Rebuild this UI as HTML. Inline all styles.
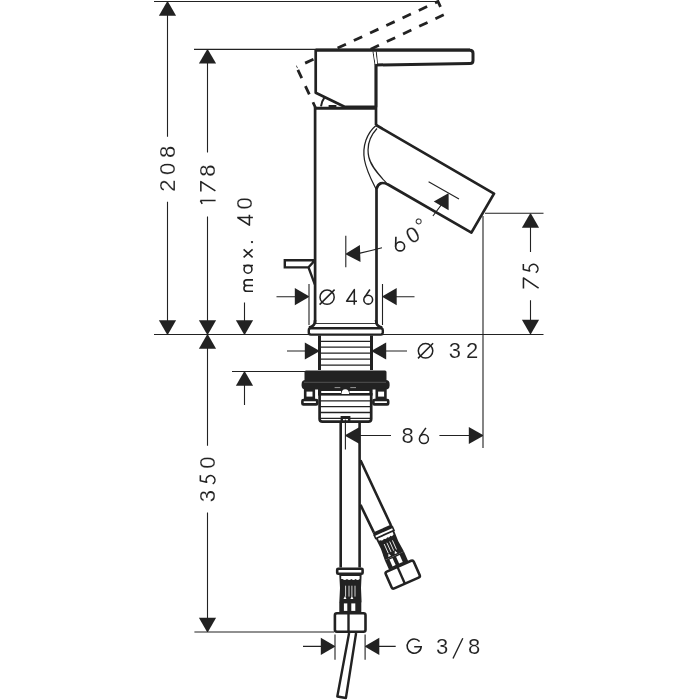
<!DOCTYPE html>
<html><head><meta charset="utf-8">
<style>
html,body{margin:0;padding:0;background:#fff;width:700px;height:700px;overflow:hidden}
svg{display:block;will-change:transform}
text{font-family:"Liberation Sans",sans-serif;font-size:22px;fill:#222;stroke:#fff;stroke-width:0.15px}
</style></head><body>
<svg width="700" height="700" viewBox="0 0 700 700">
<defs>
<path id="aU" d="M-0.4,0 L0.4,0 L8.6,14.2 L-8.6,14.2 Z"/>
</defs>
<g fill="none" stroke="#222" stroke-width="1.1">
<!-- thin dimension lines -->
<path d="M154,1.5 H439"/>
<path d="M194,49.4 H316"/>
<path d="M167.5,15 V136.7 M167.5,201.7 V321"/>
<path d="M207.5,63 V152.5 M207.5,216.6 V321 M207.5,348 V445.7 M207.5,512.6 V619"/>
<path d="M154,334.5 H310 M381,334.5 H543.5"/>
<path d="M244.5,302.6 V321 M244.5,385 V405"/>
<path d="M232,371.5 H305"/>
<path d="M194.4,632 H334"/>
<!-- O46 -->
<path d="M276.5,296.7 H296 M309,284 V325 M382.5,284 V325 M396,296.7 H414.5"/>
<!-- O32 -->
<path d="M287,351 H306 M385,351 H407"/>
<!-- 86 -->
<path d="M345.4,419.4 V449.4 M359,435.5 H391 M439.4,435.5 H470 M483,216 V448"/>
<!-- 75 -->
<path d="M485,213.3 H543.5 M530.5,227 V252 M530.5,300.3 V322"/>
<!-- G3/8 -->
<path d="M335,634.6 V659.8 M365.1,634.6 V659.8 M303,646.4 H321 M378,646.4 H395.7"/>
<!-- 60 deg -->
<path d="M345.8,235.7 V267.3 M359,253.4 Q370,251 382,247.8"/>
<path d="M428.6,181.8 L459,198.9 M443,202.7 L432.9,216"/>
</g>
<g fill="#222">
<use href="#aU" transform="translate(167.5,1.5)"/>
<use href="#aU" transform="translate(167.5,334.5) rotate(180)"/>
<use href="#aU" transform="translate(207.5,49.4)"/>
<use href="#aU" transform="translate(207.5,334.5) rotate(180)"/>
<use href="#aU" transform="translate(207.5,334.5)"/>
<use href="#aU" transform="translate(207.5,632) rotate(180)"/>
<use href="#aU" transform="translate(244.5,334.5) rotate(180)"/>
<use href="#aU" transform="translate(244.5,371.5)"/>
<use href="#aU" transform="translate(309,296.7) rotate(90)"/>
<use href="#aU" transform="translate(382.5,296.7) rotate(-90)"/>
<use href="#aU" transform="translate(319,351) rotate(90)"/>
<use href="#aU" transform="translate(372,351) rotate(-90)"/>
<use href="#aU" transform="translate(345.4,435.5) rotate(-90)"/>
<use href="#aU" transform="translate(483,435.5) rotate(90)"/>
<use href="#aU" transform="translate(530.5,213.5)"/>
<use href="#aU" transform="translate(530.5,334) rotate(180)"/>
<use href="#aU" transform="translate(335,646.4) rotate(90)"/>
<use href="#aU" transform="translate(365.1,646.4) rotate(-90)"/>
<use href="#aU" transform="translate(346,254) rotate(-92)"/>
<use href="#aU" transform="translate(448.3,193.6) rotate(30)"/>
</g>

<!-- dashed rotated handle -->
<g fill="none" stroke="#222" stroke-width="2.8" stroke-dasharray="9.2 8.7">
<path d="M296.6,67.1 L438,1.5 L444.1,14.65" stroke-dashoffset="8.5"/>
<path d="M444.1,14.65 L370,49.5" stroke-dashoffset="17.5"/>
<path d="M296.6,67.1 L315.4,107.5" stroke-dashoffset="14.9"/>
</g>
<path d="M324.3,97.9 Q321.5,101.5 321,106.4" fill="none" stroke="#222" stroke-width="2"/>
<path d="M328.6,106 H336.4" fill="none" stroke="#222" stroke-width="2"/>

<!-- solid object -->
<g fill="#fff" stroke="#222" stroke-width="2.7" stroke-linejoin="round">
<path d="M315.7,50 H376 V106.8 H344.5 L315.7,92.7 Z" stroke="none"/>
<path d="M376,65 V106.8 H344.5 L315.7,92.7 V50" fill="none"/>
<path d="M315.7,50.3 H470 Q473,50.3 473,53.3 V60.6 Q473,63.6 470,63.6 L375.5,65" fill="none" stroke-width="3"/>
<path d="M315.7,49.6 H470" fill="none" stroke-width="2"/>
<path d="M315.1,108.2 H376.5" stroke-width="2.9"/>
<path d="M315.1,107 V324 M376,64 V125"/>
<path d="M376,125 L494,193.6 L471.4,232.6 L388,184.5 Q379,180 376.5,189 V324" fill="none"/>
</g>
<g fill="none" stroke="#222" stroke-width="0.9">
<path d="M376,125.5 C367,133 362,146 364.5,160 C366.5,171 372,181 376,189" stroke-width="1.25"/>
<path d="M377,128.5 C370,136 366.5,146 368.8,157 C371,167 380,176 386.5,183" stroke-width="1.25"/>
<path d="M315.4,323.5 H376"/>
</g>
<path d="M373,51.5 L375.1,65 M376.25,51.5 L377.5,64.5" fill="none" stroke="#222" stroke-width="1"/>
<path d="M374.5,52.5 L376.4,64" fill="none" stroke="#fff" stroke-width="1.6"/>
<!-- drain lever -->
<g fill="none" stroke="#222" stroke-width="2.4">
<path d="M315,260.3 H284.8 V267.4 H308.5 L315,260.3 M308.5,267.4 L314.8,284.4"/>
</g>
<path d="M315.1,320 Q315.1,326.8 308.8,327.5 M376,320 Q376,326.8 382.3,327.5" fill="none" stroke="#222" stroke-width="2.6"/>
<!-- base plate -->
<rect x="308.8" y="328.2" width="74" height="6.4" rx="2" fill="#fff" stroke="#222" stroke-width="2.4"/>
<!-- thread -->
<g fill="none" stroke="#222">
<path d="M319.5,335.5 V370 M371.5,335.5 V370" stroke-width="3"/>
<path d="M320,341.3 H371 M320,347.2 H371 M320,353.2 H371 M320,359.2 H371 M320,365.2 H371" stroke-width="1.3"/>
</g>
<!-- nut -->
<g fill="#222">
<rect x="304.5" y="370.4" width="82" height="12" rx="1.5"/>
<rect x="301.6" y="380" width="88" height="9.6" rx="4"/>
<rect x="318" y="389" width="54.6" height="6.6"/>
</g>
<path d="M304,382.3 H386" stroke="#666" stroke-width="0.7"/>
<path d="M321.2,392 H341 M349.5,392 H369.4" stroke="#fff" stroke-width="2.2"/>
<path d="M341.5,394 Q341.5,389.3 345.3,389.3 Q349.1,389.3 349.1,394 Z" fill="#fff"/>
<path d="M334.6,387.6 H340.3 M350.3,387.6 H356" stroke="#999" stroke-width="1"/>
<!-- bracket -->
<g fill="#fff" stroke="#222" stroke-width="2.6">
<rect x="305.2" y="390.3" width="8.6" height="7.6"/>
<rect x="302.4" y="400" width="14.8" height="4.4" rx="1"/>
<rect x="376.8" y="390.3" width="8.6" height="7.6"/>
<rect x="373.4" y="400" width="14.8" height="4.4" rx="1"/>
</g>
<g fill="none" stroke="#222">
<path d="M319.6,393 V419 Q319.6,421.6 322.5,421.6 H368.3 Q371.2,421.6 371.2,419 V393" stroke-width="2.7"/>
<path d="M320,400.9 H371 M320,406.6 H371 M320,412.5 H371 M320,418.4 H371" stroke-width="1.3"/>
</g>
<!-- pipe -->
<g fill="none" stroke="#222" stroke-width="2.6">
<path d="M340.7,423 V567.4 M359.6,423 V567.4"/>
<path d="M341.8,422.5 V417.2 H349.2 V422.5" stroke-width="2.4"/>
</g>
<!-- hose tube -->
<g fill="none" stroke="#222" stroke-width="2.6">
<path d="M360.5,460.3 L390.8,525 M360.5,504.9 L373.8,532.4"/>
</g>
<!-- bottom assembly (vertical) -->
<g>
<rect x="337.2" y="568.7" width="25.4" height="5" rx="1" fill="#fff" stroke="#222" stroke-width="2.6"/>
<path d="M339.3,575 H361.6 L361,588 L361.6,602.3 H339.3 L340,588 Z" fill="#222"/>
<path d="M341.2,576 H359.6 V579 Q357.6,581 355.6,579 Q353.5,581 351.4,579 Q349.2,581 347,579 Q344.8,581 342.6,579 L341.2,579 Z" fill="#fff"/>
<path d="M345.6,585.7 V596.6 M349,585.7 V596.6 M351.9,585.7 V596.6 M355,585.7 V596.6" stroke="#fff" stroke-width="0.8"/>
<path d="M343.5,599 L345,596 L346.5,599 Z M350.4,599 L351.9,596 L353.4,599 Z" fill="#fff"/>
<rect x="339.3" y="602" width="22" height="10.5" fill="#222"/>
<rect x="343.9" y="603.4" width="3.4" height="7.5" fill="#fff"/>
<rect x="351.3" y="603.4" width="4" height="7.5" fill="#fff"/>
<rect x="334.9" y="613.3" width="30.6" height="18.4" rx="2" fill="#fff" stroke="#222" stroke-width="2.6"/>
<path d="M348.5,613 V632" stroke="#222" stroke-width="2.4"/>
</g>
<!-- hose assembly -->
<g transform="translate(407,584.2) rotate(-24)">
<path d="M-10.5,-59.5 H10.5" stroke="#222" stroke-width="3"/>
<rect x="-10" y="-58" width="20" height="3.5" fill="#fff" stroke="#222" stroke-width="1.6"/>
<path d="M-10,-54.5 H10 L9.5,-43 L10.5,-31 H-10.5 L-9.5,-43 Z" fill="#222"/>
<path d="M-8,-53.5 H8 V-51 Q6.2,-49 4.4,-51 Q2.7,-49 1,-51 Q-0.8,-49 -2.6,-51 Q-4.4,-49 -6.2,-51 L-8,-51 Z" fill="#fff"/>
<path d="M-4.5,-46 V-36 M-1.5,-46 V-36 M1.5,-46 V-36 M4.5,-46 V-36" stroke="#fff" stroke-width="0.8"/>
<path d="M-6,-32.5 L-4.5,-35.5 L-3,-32.5 Z M1,-32.5 L2.5,-35.5 L4,-32.5 Z" fill="#fff"/>
<rect x="-10.5" y="-31" width="21" height="10.5" fill="#222"/>
<rect x="-6" y="-29.6" width="3.4" height="7.5" fill="#fff"/>
<rect x="1.2" y="-29.6" width="4" height="7.5" fill="#fff"/>
<rect x="-15.3" y="-19.7" width="30.6" height="18.4" rx="2" fill="#fff" stroke="#222" stroke-width="2.6"/>
<path d="M-1.7,-20 V-1" stroke="#222" stroke-width="2.4"/>
</g>
<!-- bottom tube -->
<path d="M349.1,633 L337.3,696.5 L345.9,698 L356.1,633" fill="#fff" stroke="#222" stroke-width="2.4" stroke-linejoin="round"/>

<!-- texts -->
<g class="tx">
<text transform="translate(175.35,191.85) rotate(-90)">2</text>
<text transform="translate(175.35,174.95) rotate(-90)">0</text>
<text transform="translate(175.35,158.0) rotate(-90)">8</text>
<path d="M200.3,200.4 H215.6 M200.4,200.6 L202.2,203.9" stroke="#222" stroke-width="1.55" fill="none" stroke-linecap="butt"/>
<path d="M200.85,191.4 V181.6 L215.4,190.9" stroke="#222" stroke-width="1.55" fill="none" stroke-linecap="butt" stroke-linejoin="round"/>
<text transform="translate(215.35,176.85) rotate(-90)">8</text>
<path d="M253,291.25 H246.8 M253,285.55 H246.8 A2.85,2.85 0 0 0 246.8,291.25 M253,279.85 H246.8 A2.85,2.85 0 0 0 246.8,285.55" stroke="#222" stroke-width="1.55" fill="none"/>
<path d="M243.2,265.55 H253" stroke="#222" stroke-width="1.55" fill="none"/><circle cx="248" cy="269.2" r="3.95" stroke="#222" stroke-width="1.55" fill="none"/>
<path d="M243.6,249.4 L252.6,257.3 M243.6,257.3 L252.6,249.4" stroke="#222" stroke-width="1.55" fill="none"/>
<circle cx="252" cy="242.1" r="1.15" fill="#222"/>
<path d="M237.2,217.5 H252.9 M237.6,217.5 L249.4,225.2 V214.8" stroke="#222" stroke-width="1.55" fill="none" stroke-linecap="butt" stroke-linejoin="round"/>
<text transform="translate(252.4,209.45) rotate(-90)">0</text>
<text transform="translate(215.15,502.25) rotate(-90)">3</text>
<path d="M523.35,263.9 V269.5 L529.7,270.9 A4.4,4.4 0 1 1 535.7,272.6" stroke="#222" stroke-width="1.55" fill="none" stroke-linejoin="round" transform="translate(-323,211.3)"/>
<text transform="translate(215.15,468.85) rotate(-90)">0</text>
<path d="M523.45,288.4 V277.9 L538.6,288.1" stroke="#222" stroke-width="1.55" fill="none" stroke-linecap="butt" stroke-linejoin="round"/>
<path d="M523.35,263.9 V269.5 L529.7,270.9 A4.4,4.4 0 1 1 535.7,272.6" stroke="#222" stroke-width="1.55" fill="none" stroke-linejoin="round"/>
<circle cx="327.1" cy="297.15" r="7.1" fill="none" stroke="#222" stroke-width="1.5"/><path d="M319.6,304.6 L334.6,289.6" stroke="#222" stroke-width="1.5"/>
<path d="M354.3,304.8 V289.6 L346.6,301.2 H357" stroke="#222" stroke-width="1.55" fill="none" stroke-linecap="butt" stroke-linejoin="round"/>
<path d="M369.9,289.5 L364.4,297.6" stroke="#222" stroke-width="1.55" fill="none" stroke-linecap="butt"/><circle cx="368.2" cy="299.7" r="4.4" stroke="#222" stroke-width="1.55" fill="none" stroke-linecap="butt"/>
<circle cx="425.55" cy="350.85" r="7.25" fill="none" stroke="#222" stroke-width="1.5"/><path d="M418,358.4 L433.1,343.3" stroke="#222" stroke-width="1.5"/>
<text x="448.7" y="358.35">3</text>
<text x="465.9" y="358.35">2</text>
<text x="401.55" y="443.35">8</text>
<path d="M425.9,427.9 L419.9,436.4" stroke="#222" stroke-width="1.55" fill="none" stroke-linecap="butt"/><circle cx="423.9" cy="438.9" r="4.5" stroke="#222" stroke-width="1.55" fill="none" stroke-linecap="butt"/>
<path d="M419.6,641.6 A7.05,7.05 0 1 0 421.2,646.8 H414.2" stroke="#222" stroke-width="1.55" fill="none"/>
<text x="436.1" y="654.3">3</text>
<text x="467.9" y="654.3">8</text>
<path d="M395.9,236.8 L395.6,246.6" stroke="#222" stroke-width="1.6" fill="none"/><circle cx="400.1" cy="246.4" r="4.5" fill="none" stroke="#222" stroke-width="1.6"/>
<text transform="translate(411.35,244.5) rotate(-30)">0</text>
<text transform="translate(421.0,234.25) rotate(-30)">°</text>
</g>
<path d="M453,658.5 L462.8,638.3" stroke="#222" stroke-width="1.4" fill="none"/>
</svg>
</body></html>
